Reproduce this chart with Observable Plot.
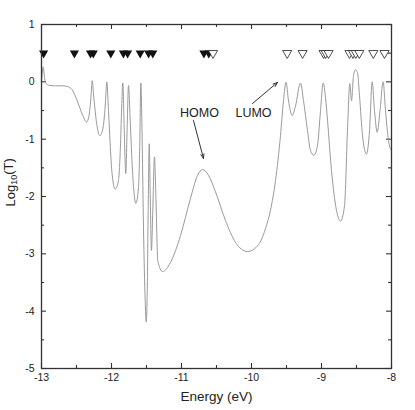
<!DOCTYPE html>
<html>
<head>
<meta charset="utf-8">
<script src="https://cdn.jsdelivr.net/npm/d3@7"></script>
<script src="https://cdn.jsdelivr.net/npm/@observablehq/plot@0.6"></script>
<style>
  html, body { margin: 0; padding: 0; background: #fff; }
  svg { font-family: "Liberation Sans", Arial, sans-serif; }
</style>
</head>
<body>
<div id="chart"></div>
<script>
// Transmission curve (energy in eV, log10 T)
const energy = [-13.0, -12.976, -12.955, -12.943, -12.896, -12.8, -12.7, -12.633, -12.561, -12.49, -12.419, -12.357, -12.324, -12.29, -12.276, -12.253, -12.204, -12.167, -12.119, -12.086, -12.067, -12.043, -12.019, -11.996, -11.947, -11.9, -11.871, -11.853, -11.839, -11.819, -11.796, -11.776, -11.757, -11.733, -11.7, -11.653, -11.614, -11.596, -11.581, -11.561, -11.543, -11.519, -11.504, -11.49, -11.476, -11.461, -11.447, -11.429, -11.41, -11.386, -11.367, -11.339, -11.271, -11.157, -11.014, -10.871, -10.771, -10.7, -10.614, -10.514, -10.371, -10.229, -10.057, -9.9, -9.8, -9.729, -9.657, -9.586, -9.543, -9.507, -9.471, -9.419, -9.371, -9.3, -9.257, -9.2, -9.157, -9.11, -9.057, -9.014, -8.976, -8.943, -8.914, -8.857, -8.786, -8.729, -8.671, -8.629, -8.596, -8.571, -8.543, -8.514, -8.486, -8.457, -8.414, -8.357, -8.314, -8.276, -8.243, -8.204, -8.164, -8.119, -8.086, -8.043, -8.0];
const logT = [-0.02, 0.26, 0.05, -0.01, -0.06, -0.07, -0.07, -0.08, -0.14, -0.33, -0.56, -0.70, -0.61, -0.21, 0.02, -0.27, -0.79, -0.94, -0.79, -0.35, 0.0, -0.50, -1.08, -1.55, -1.87, -1.72, -1.08, -0.38, -0.02, -0.79, -1.60, -0.79, -0.06, -0.67, -1.55, -2.12, -1.84, -1.08, -0.02, -1.08, -2.54, -3.81, -4.19, -3.70, -2.24, -1.08, -1.95, -2.94, -2.24, -1.31, -1.95, -3.12, -3.31, -3.15, -2.68, -2.03, -1.63, -1.53, -1.63, -1.92, -2.42, -2.80, -2.96, -2.84, -2.56, -2.24, -1.72, -0.94, -0.33, -0.01, -0.33, -0.59, -0.42, -0.02, -0.33, -0.85, -1.20, -1.28, -1.11, -0.50, -0.02, -0.27, -0.67, -1.55, -2.24, -2.43, -2.16, -0.85, -0.03, -0.33, 0.11, 0.21, 0.16, -0.24, -0.94, -1.26, -0.85, 0.0, -0.50, -0.88, -0.50, 0.0, -0.50, -1.02, -1.20];

// Molecular orbital energies (markers at log10 T = 0.5)
const occupiedLevels = [-12.97, -12.53, -12.30, -12.26, -12.01, -11.83, -11.77, -11.59, -11.47, -11.41, -10.68, -10.61];
const unoccupiedLevels = [-10.55, -9.49, -9.27, -8.97, -8.94, -8.90, -8.60, -8.55, -8.51, -8.46, -8.26, -8.10];
const levelMarkerY = 0.5;

// Axis ticks
const xMajorTicks = [-13, -12, -11, -10, -9, -8];
const xMinorTicks = [-12.5, -11.5, -10.5, -9.5, -8.5];
const yMajorTicks = [-5, -4, -3, -2, -1, 0, 1];
const yMinorTicks = [-4.5, -3.5, -2.5, -1.5, -0.5, 0.5];
const xDomain = [-13, -8];
const yDomain = [-5, 1];

// Annotations
const annotLabels = ["HOMO", "LUMO"];
const annotTextE = [-10.743, -9.971];
const annotTextY = [-0.535, -0.552];
const arrowFromE = [-10.829, -9.986];
const arrowFromY = [-0.674, -0.378];
const arrowToE = [-10.686, -9.629];
const arrowToY = [-1.337, -0.011];

const curve = energy.map((e, i) => ({E: e, T: logT[i]}));
const annots = annotLabels.map((l, i) => ({label: l, x: annotTextE[i], y: annotTextY[i], x1: arrowFromE[i], y1: arrowFromY[i], x2: arrowToE[i], y2: arrowToY[i]}));

const W = 415, H = 410, ML = 41, MR = 24, MT = 24, MB = 42;
// tick lengths (5 px major, 3 px minor) converted to data units
const pxX = (W - ML - MR) / (xDomain[1] - xDomain[0]);
const pxY = (H - MT - MB) / (yDomain[1] - yDomain[0]);
const axisColor = "#333";
const vTicks = (data, px, atTop) => Plot.ruleX(data, {
  x: d => d,
  y1: () => atTop ? yDomain[1] : yDomain[0],
  y2: () => atTop ? yDomain[1] - px / pxY : yDomain[0] + px / pxY,
  stroke: axisColor, strokeWidth: 1.1
});
const hTicks = (data, px, atRight) => Plot.ruleY(data, {
  y: d => d,
  x1: () => atRight ? xDomain[1] : xDomain[0],
  x2: () => atRight ? xDomain[1] - px / pxX : xDomain[0] + px / pxX,
  stroke: axisColor, strokeWidth: 1.1
});

const plot = Plot.plot({
  width: W,
  height: H,
  marginLeft: ML,
  marginRight: MR,
  marginTop: MT,
  marginBottom: MB,
  style: {fontFamily: "'Liberation Sans', Arial, sans-serif", background: "#fff", overflow: "visible"},
  x: {domain: xDomain, axis: null},
  y: {domain: yDomain, axis: null},
  marks: [
    // inward ticks on all four sides
    vTicks(xMajorTicks, 5, false),
    vTicks(xMinorTicks, 3, false),
    vTicks(xMajorTicks, 5, true),
    vTicks(xMinorTicks, 3, true),
    hTicks(yMajorTicks, 5, false),
    hTicks(yMinorTicks, 3, false),
    hTicks(yMajorTicks, 5, true),
    hTicks(yMinorTicks, 3, true),
    // tick labels
    Plot.text(xMajorTicks, {x: d => d, frameAnchor: "bottom", dy: 12, text: d => String(d), fontSize: 10.5, fill: "#222"}),
    Plot.text(yMajorTicks, {y: d => d, frameAnchor: "left", dx: -7, textAnchor: "end", text: d => String(d), fontSize: 10.5, fill: "#222"}),
    // axis titles
    Plot.text(["Energy (eV)"], {frameAnchor: "bottom", dy: 32, text: d => d, fontSize: 13.5, fill: "#222"}),
    Plot.text(["Log10(T)"], {frameAnchor: "left", dx: -31, dy: 10, rotate: -90, text: d => d, fontSize: 13, fill: "#222", className: "ylabel"}),
    // curve
    Plot.line(curve, {x: "E", y: "T", stroke: "#9a9a9a", strokeWidth: 1, curve: "monotone-x"}),
    // level markers
    Plot.dot(occupiedLevels, {x: d => d, y: () => levelMarkerY, symbol: "triangle", rotate: 180, r: 3.4, fill: "#111", stroke: "none"}),
    Plot.dot(unoccupiedLevels, {x: d => d, y: () => levelMarkerY, symbol: "triangle", rotate: 180, r: 3.4, fill: "#fff", stroke: "#222", strokeWidth: 0.8}),
    // annotations
    Plot.arrow(annots, {x1: "x1", y1: "y1", x2: "x2", y2: "y2", stroke: "#333", strokeWidth: 1, headLength: 7, headAngle: 40}),
    Plot.text(annots, {x: "x", y: "y", text: "label", fontSize: 12.5, fill: "#222"}),
    Plot.frame({stroke: axisColor, strokeWidth: 1.3})
  ]
});

document.getElementById("chart").appendChild(plot);

// subscript in the y-axis title
d3.select(plot).selectAll(".ylabel text").each(function() {
  const t = d3.select(this);
  t.text(null);
  t.append("tspan").text("Log");
  t.append("tspan").attr("dy", "0.3em").attr("font-size", "9").text("10");
  t.append("tspan").attr("dy", "-0.3em").text("(T)");
});
</script>
</body>
</html>
